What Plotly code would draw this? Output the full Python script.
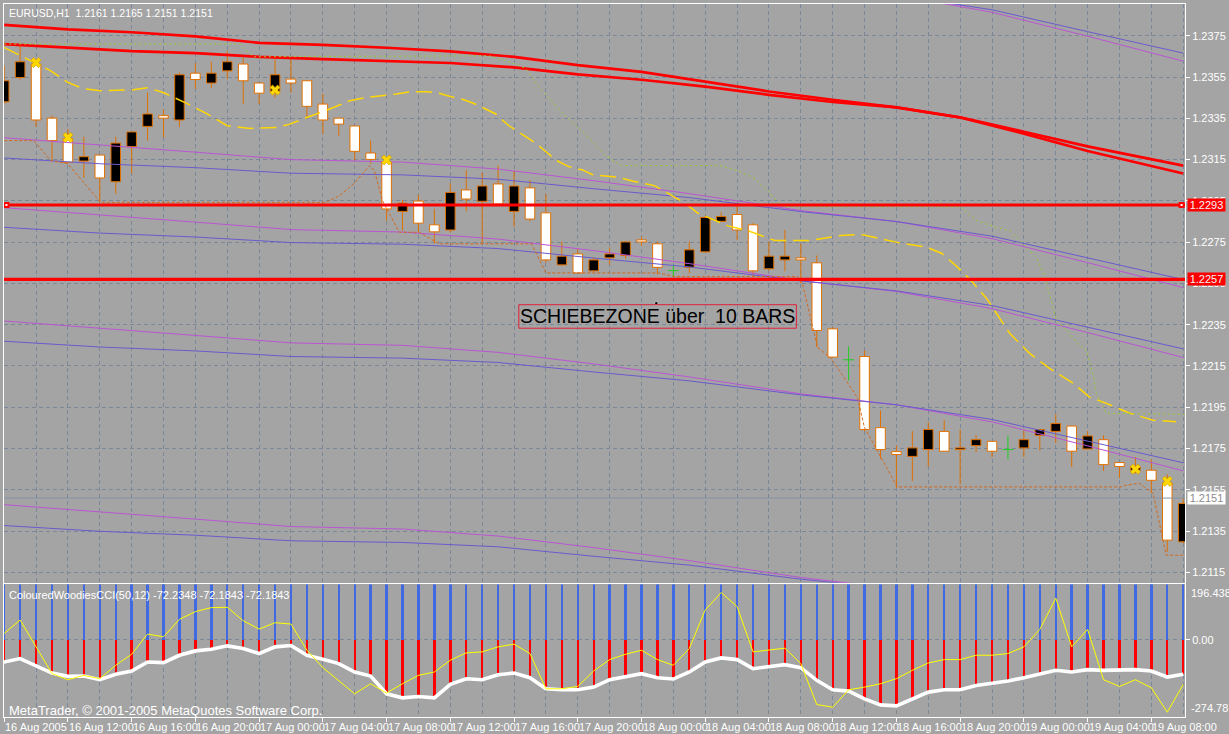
import plotly.graph_objects as go

# ---------------- DATA ----------------
time_labels = ["16 Aug 2005", "16 Aug 12:00", "16 Aug 16:00", "16 Aug 20:00", "17 Aug 00:00",
               "17 Aug 04:00", "17 Aug 08:00", "17 Aug 12:00", "17 Aug 16:00", "17 Aug 20:00",
               "18 Aug 00:00", "18 Aug 04:00", "18 Aug 08:00", "18 Aug 12:00", "18 Aug 16:00",
               "18 Aug 20:00", "19 Aug 00:00", "19 Aug 04:00", "19 Aug 08:00"]
time_label_bars = [0, 4, 8, 12, 16, 20, 24, 28, 32, 36, 40, 44, 48, 52, 56, 60, 64, 68, 72]

opens = [1.23430, 1.23548, 1.23613, 1.23351, 1.23253, 1.23143, 1.23172, 1.23043, 1.23213, 1.23311,
         1.23363, 1.23342, 1.23569, 1.23521, 1.23580, 1.23613, 1.23521, 1.23480, 1.23540, 1.23532,
         1.23419, 1.23351, 1.23313, 1.23182, 1.23140, 1.22899, 1.22949, 1.22834, 1.22809, 1.23003,
         1.22948, 1.23032, 1.22899, 1.23013, 1.22892, 1.22640, 1.22693, 1.22611, 1.22674, 1.22685,
         1.22761, 1.22742, 1.22612, 1.22628, 1.22703, 1.22851, 1.22884, 1.22834, 1.22621, 1.22664,
         1.22674, 1.22650, 1.22330, 1.22180, 1.22196, 1.21851, 1.21735, 1.21712, 1.21745, 1.21833,
         1.21745, 1.21764, 1.21785, 1.21745, 1.21753, 1.21814, 1.21833, 1.21859, 1.21748, 1.21793,
         1.21682, 1.21645, 1.21645, 1.21585, 1.21298]
highs = [1.23604, 1.23710, 1.23637, 1.23363, 1.23298, 1.23261, 1.23172, 1.23261, 1.23284, 1.23475,
         1.23392, 1.23572, 1.23618, 1.23624, 1.23677, 1.23645, 1.23521, 1.23637, 1.23637, 1.23532,
         1.23468, 1.23351, 1.23313, 1.23242, 1.23153, 1.22956, 1.22979, 1.22911, 1.23036, 1.23100,
         1.23087, 1.23121, 1.23096, 1.23051, 1.22984, 1.22753, 1.22717, 1.22677, 1.22725, 1.22753,
         1.22777, 1.22753, 1.22640, 1.22753, 1.22879, 1.22895, 1.22925, 1.22843, 1.22753, 1.22809,
         1.22742, 1.22685, 1.22338, 1.22245, 1.22225, 1.21935, 1.21764, 1.21835, 1.21877, 1.21887,
         1.21843, 1.21814, 1.21785, 1.21813, 1.21838, 1.21842, 1.21916, 1.21859, 1.21835, 1.21814,
         1.21682, 1.21709, 1.21697, 1.21625, 1.21511]
lows = [1.23421, 1.23537, 1.23309, 1.23145, 1.23134, 1.23061, 1.22943, 1.22984, 1.23083, 1.23242,
        1.23258, 1.23309, 1.23492, 1.23497, 1.23540, 1.23419, 1.23419, 1.23451, 1.23475, 1.23354,
        1.23274, 1.23266, 1.23145, 1.23130, 1.22854, 1.22806, 1.22798, 1.22745, 1.22796, 1.22899,
        1.22743, 1.22927, 1.22825, 1.22851, 1.22651, 1.22637, 1.22601, 1.22608, 1.22640, 1.22671,
        1.22733, 1.22593, 1.22580, 1.22599, 1.22700, 1.22850, 1.22761, 1.22580, 1.22612, 1.22609,
        1.22550, 1.22241, 1.22193, 1.22080, 1.21833, 1.21701, 1.21559, 1.21593, 1.21664, 1.21737,
        1.21576, 1.21733, 1.21709, 1.21698, 1.21709, 1.21741, 1.21777, 1.21661, 1.21745, 1.21641,
        1.21607, 1.21629, 1.21535, 1.21249, 1.21291]
closes = [1.23532, 1.23624, 1.23342, 1.23242, 1.23137, 1.23164, 1.23061, 1.23230, 1.23284, 1.23371,
          1.23351, 1.23561, 1.23538, 1.23569, 1.23624, 1.23532, 1.23472, 1.23561, 1.23521, 1.23408,
          1.23342, 1.23322, 1.23190, 1.23151, 1.22911, 1.22939, 1.22842, 1.22800, 1.22991, 1.22959,
          1.23022, 1.22935, 1.23022, 1.22862, 1.22664, 1.22682, 1.22601, 1.22664, 1.22693, 1.22751,
          1.22751, 1.22628, 1.22612, 1.22713, 1.22870, 1.22874, 1.22809, 1.22611, 1.22682, 1.22682,
          1.22664, 1.22322, 1.22193, 1.22180, 1.21842, 1.21745, 1.21721, 1.21753, 1.21842, 1.21737,
          1.21753, 1.21793, 1.21737, 1.21745, 1.21793, 1.21842, 1.21871, 1.21737, 1.21811, 1.21672,
          1.21663, 1.21661, 1.21596, 1.21306, 1.21484]

# two slow moving averages (thick red)
ma_bars = [0, 4, 8, 12, 16, 20, 24, 28, 32, 36, 40, 44, 48, 52, 56, 60, 64, 68, 74]
ma_red_1 = [1.23803, 1.23781, 1.23767, 1.23747, 1.23716, 1.23706, 1.23692, 1.23674, 1.23648, 1.23608,
            1.23575, 1.23527, 1.23480, 1.23440, 1.23403, 1.23354, 1.23276, 1.23192, 1.23083]
ma_red_2 = [1.23710, 1.23693, 1.23676, 1.23666, 1.23648, 1.23637, 1.23629, 1.23618, 1.23597, 1.23563,
            1.23537, 1.23504, 1.23464, 1.23429, 1.23403, 1.23355, 1.23285, 1.23214, 1.23121]

# channel lines (violet / slate blue pairs)
chan_bars = [0, 6, 12, 18, 25, 31, 37, 43, 50, 56, 62, 68, 74]
chan_top_bars = [56, 62, 68, 74]
chan_a_violet = [1.23947, 1.23864, 1.23748, 1.23627]
chan_a_blue = [1.23947, 1.23876, 1.23770, 1.23666]
chan_b_violet = [1.23256, 1.23222, 1.23186, 1.23150, 1.23138, 1.23104, 1.23048, 1.22985, 1.22903, 1.22850, 1.22767, 1.22651, 1.22530]
chan_b_blue = [1.23158, 1.23130, 1.23111, 1.23084, 1.23076, 1.23055, 1.23009, 1.22966, 1.22898, 1.22850, 1.22779, 1.22673, 1.22569]
chan_c_violet = [1.22917, 1.22883, 1.22847, 1.22811, 1.22799, 1.22765, 1.22709, 1.22646, 1.22564, 1.22511, 1.22428, 1.22312, 1.22191]
chan_c_blue = [1.22822, 1.22794, 1.22775, 1.22748, 1.22740, 1.22719, 1.22673, 1.22630, 1.22562, 1.22514, 1.22443, 1.22337, 1.22233]
chan_d_violet = [1.22368, 1.22334, 1.22298, 1.22262, 1.22250, 1.22216, 1.22160, 1.22097, 1.22015, 1.21962, 1.21879, 1.21763, 1.21642]
chan_d_blue = [1.22270, 1.22242, 1.22223, 1.22196, 1.22188, 1.22167, 1.22121, 1.22078, 1.22010, 1.21962, 1.21891, 1.21785, 1.21681]
chan_e_violet = [1.21478, 1.21444, 1.21408, 1.21372, 1.21360, 1.21326, 1.21270, 1.21207, 1.21125, 1.21072, 1.20989, 1.20873, 1.20752]
chan_e_blue = [1.21377, 1.21349, 1.21330, 1.21303, 1.21295, 1.21274, 1.21228, 1.21185, 1.21117, 1.21069, 1.20998, 1.20892, 1.20788]

# dashed gold moving average
gold_bars = [0, 1.86, 2.93, 3.99, 4.99, 6.05, 8.11, 8.99, 9.99, 11.49, 12.74, 13.99, 15.43, 17.11, 17.93,
             18.99, 20.43, 21.68, 22.74, 24.61, 25.55, 26.55, 27.3, 28.05, 28.86, 29.49, 30.24, 30.86,
             31.68, 32.3, 33.3, 33.93, 34.68, 35.43, 36.3, 36.93, 37.8, 38.55, 39.49, 40.8, 41.3, 42.24,
             42.8, 43.55, 44.36, 45.43, 46.68, 48.36, 50.61, 52.49, 53.8, 56.05, 57.93, 58.86, 59.6, 60.6,
             61.67, 63.11, 64.36, 65.61, 67.11, 68.11, 69.18, 70.61, 72.11, 73.55]
gold_ma = [1.23693, 1.23620, 1.23580, 1.23524, 1.23493, 1.23484, 1.23488, 1.23498, 1.23475, 1.23421,
           1.23372, 1.23314, 1.23301, 1.23306, 1.23322, 1.23354, 1.23395, 1.23435, 1.23451, 1.23468,
           1.23479, 1.23479, 1.23472, 1.23455, 1.23440, 1.23422, 1.23395, 1.23371, 1.23314, 1.23282,
           1.23233, 1.23193, 1.23145, 1.23116, 1.23100, 1.23077, 1.23071, 1.23064, 1.23045, 1.23024,
           1.23003, 1.22959, 1.22935, 1.22890, 1.22863, 1.22829, 1.22806, 1.22758, 1.22758, 1.22782,
           1.22787, 1.22749, 1.22725, 1.22695, 1.22645, 1.22572, 1.22476, 1.22308, 1.22211, 1.22138,
           1.22066, 1.21999, 1.21969, 1.21922, 1.21887, 1.21880]

# dotted yellow-green line
olive_bars = [0, 14.8, 15.61, 30.43, 32.11, 32.74, 33.55, 34.36, 35.24, 36.05, 36.86, 37.74, 38.55, 38.74,
              44.99, 46.05, 47.11, 48.11, 48.74, 48.99, 59.99, 61.05, 62.3, 63.11, 64.36, 64.8, 65.3,
              66.05, 66.68, 67.49, 67.93, 68.36, 68.55, 69.18, 74.1]
olive_line = [1.23710, 1.23710, 1.23648, 1.23653, 1.23614, 1.23590, 1.23503, 1.23435, 1.23358, 1.23304,
              1.23242, 1.23169, 1.23130, 1.23121, 1.23121, 1.23096, 1.23058, 1.22985, 1.22927, 1.22922,
              1.22922, 1.22854, 1.22821, 1.22806, 1.22709, 1.22675, 1.22588, 1.22371, 1.22322, 1.22250,
              1.22225, 1.22104, 1.22017, 1.21921, 1.21916]

# dashed orange stop line
stop_bars = [0, 1.86, 2.93, 3.99, 6.05, 20.2, 21.05, 22.0, 22.93, 23.24, 23.74, 24.18, 24.8, 26.05, 27.3,
             33.1, 34.0, 41.05, 42.1, 49.8, 50.1, 51.05, 51.86, 53.55, 53.99, 56.05, 70.1, 70.4, 71.24,
             72.11, 72.93, 74.1]
stop_line = [1.23242, 1.23242, 1.23145, 1.23130, 1.22943, 1.22943, 1.22975, 1.23038, 1.23121, 1.23096,
             1.22951, 1.22888, 1.22798, 1.22798, 1.22742, 1.22742, 1.22601, 1.22601, 1.22583, 1.22583,
             1.22550, 1.22240, 1.22191, 1.21998, 1.21853, 1.21564, 1.21564, 1.21572, 1.21582, 1.21533,
             1.21233, 1.21233]

star_bars = [2, 4, 17, 24, 71, 73]
star_prices = [1.23620, 1.23257, 1.23487, 1.23148, 1.21650, 1.21591]

zone_levels = [1.2293, 1.2257]
zone_labels = ["1.2293", "1.2257"]
bid_price = 1.2151
bid_label = "1.2151"
anchor_bar, anchor_price = 40.93, 1.22454

zone_text = "SCHIEBEZONE über\u00a0\u00a010 BARS"
zone_box_bars = [32.3, 49.72]
zone_box_prices = [1.22333, 1.22447]
zone_text_bar, zone_text_price = 41.01, 1.22394

title_text = "EURUSD,H1\u00a0\u00a01.2161 1.2165 1.2151 1.2151"
cci_title = "ColouredWoodiesCCI(50,12) -72.2348 -72.1843 -72.1843"
copyright_text = "MetaTrader, © 2001-2005 MetaQuotes Software Corp."

cci_max, cci_min = 196.438, -274.78
cci_max_label, cci_min_label = "196.438", "-274.78"
cci_trend = [-79.0, -67.1, -94.5, -118.4, -130.3, -129.1, -142.2, -123.1, -111.2, -79.0,
             -81.4, -55.2, -39.7, -33.7, -21.8, -31.3, -49.2, -25.3, -20.6, -55.2,
             -69.5, -85.0, -114.8, -129.1, -192.3, -206.6, -201.9, -206.6, -158.9, -138.6,
             -142.2, -124.3, -118.4, -135.1, -174.4, -178.0, -178.0, -168.5, -142.2, -132.7,
             -120.8, -135.1, -139.8, -114.8, -79.0, -64.7, -70.7, -102.9, -96.9, -88.6,
             -99.3, -144.6, -178.0, -182.8, -210.2, -231.7, -235.3, -210.2, -186.3, -178.0,
             -178.0, -162.5, -154.2, -147.0, -135.1, -123.1, -108.8, -114.8, -106.4, -108.8,
             -108.8, -106.4, -111.2, -132.7, -123.1]
cci_turbo = [22.4, 70.1, -25.3, -120.8, -142.2, -126.7, -138.6, -90.9, -51.6, 20.0,
             10.4, 72.5, 99.9, 114.2, 115.4, 67.7, 37.9, 60.5, 55.8, -37.3,
             -99.3, -144.6, -192.3, -156.5, -189.9, -156.5, -126.7, -114.8, -73.0, -46.8,
             -43.2, -25.3, -15.8, -49.2, -174.4, -174.4, -166.1, -111.2, -70.7, -51.6,
             -37.3, -70.7, -90.9, -31.3, 105.9, 167.9, 117.8, -43.2, -37.3, -30.1,
             -85.0, -230.5, -240.0, -178.0, -168.5, -156.5, -138.6, -108.8, -82.6, -70.7,
             -70.7, -55.2, -55.2, -49.2, -25.3, 36.7, 147.6, -25.3, 36.7, -142.2,
             -166.1, -142.2, -170.8, -257.9, -158.9]
# upper histogram runs off the top of the window on every bar
cci_hist_up = [300, 300, 300, 300, 300, 300, 300, 300, 300, 300, 300, 300, 300, 300, 300,
               300, 300, 300, 300, 300, 300, 300, 300, 300, 300, 300, 300, 300, 300, 300,
               300, 300, 300, 300, 300, 300, 300, 300, 300, 300, 300, 300, 300, 300, 300,
               300, 300, 300, 300, 300, 300, 300, 300, 300, 300, 300, 300, 300, 300, 300,
               300, 300, 300, 300, 300, 300, 300, 300, 300, 300, 300, 300, 300, 300, 300]

# ---------------- STYLE ----------------
BG = "#A4A4A4"
GRID = "#7B8898"
GDASH = "4px,3px"
CANDLE = "#E07000"
VIOLET = "#BA55D3"
SLATE = "#6A5ACD"
FONT = "Liberation Sans, Arial, sans-serif"
XR = [-0.0125, 74.1125]

fig = go.Figure()

# ---- candles ----
bars = list(range(len(opens)))
wick_x, wick_y = [], []
doji_x, doji_y = [], []
body_x, body_base, body_len, body_col = [], [], [], []
for i, o, h, l, c in zip(bars, opens, highs, lows, closes):
    if o == c:
        doji_x += [i, i, None, i - 0.34, i + 0.34, None]
        doji_y += [h, l, None, o, o, None]
        continue
    top, bot = max(o, c), min(o, c)
    if h > top:
        wick_x += [i, i, None]
        wick_y += [h, top, None]
    if l < bot:
        wick_x += [i, i, None]
        wick_y += [bot, l, None]
    body_x.append(i)
    body_base.append(bot)
    body_len.append(top - bot)
    body_col.append("#000000" if c > o else "#FFFFFF")

fig.add_trace(go.Bar(x=body_x, y=body_len, base=body_base, width=0.6,
                     marker=dict(color=body_col, line=dict(color=CANDLE, width=1)),
                     xaxis="x", yaxis="y", hoverinfo="skip"))
fig.add_trace(go.Scatter(x=wick_x, y=wick_y, mode="lines", line=dict(color=CANDLE, width=1),
                         xaxis="x", yaxis="y", hoverinfo="skip"))
fig.add_trace(go.Scatter(x=doji_x, y=doji_y, mode="lines", line=dict(color="#22CC22", width=1),
                         xaxis="x", yaxis="y", hoverinfo="skip"))


def line(x, y, color, width=1, dash="solid", xa="x", ya="y"):
    fig.add_trace(go.Scatter(x=x, y=y, mode="lines", line=dict(color=color, width=width, dash=dash),
                             xaxis=xa, yaxis=ya, hoverinfo="skip"))


# channels
line(chan_top_bars, chan_a_violet, VIOLET)
line(chan_top_bars, chan_a_blue, SLATE)
for v, b in [(chan_b_violet, chan_b_blue), (chan_c_violet, chan_c_blue),
             (chan_d_violet, chan_d_blue), (chan_e_violet, chan_e_blue)]:
    line(chan_bars, v, VIOLET)
    line(chan_bars, b, SLATE)

# red MAs
line(ma_bars, ma_red_1, "#FF0000", 2.7)
line(ma_bars, ma_red_2, "#FF0000", 2.7)

# other indicator lines
line(stop_bars, stop_line, "#D2691E", 1, "3px,2px")
line(gold_bars, gold_ma, "#FFD700", 1.5, "16px,7px")
line(olive_bars, olive_line, "#9ACD32", 1, "2px,3px")

# horizontal zone lines and bid line
for lv in zone_levels:
    line([XR[0] - 1, XR[1] + 1], [lv, lv], "#FF0000", 3.2)
line([XR[0] - 1, XR[1] + 1], [bid_price, bid_price], "#8494A6", 1)

# end squares of the upper zone line
fig.add_trace(go.Scatter(x=[0.14, 73.9], y=[zone_levels[0]] * 2, mode="markers",
                         marker=dict(symbol="square", size=6, color="#FF0000"),
                         xaxis="x", yaxis="y", hoverinfo="skip"))
fig.add_trace(go.Scatter(x=[0.14, 73.9], y=[zone_levels[0]] * 2, mode="markers",
                         marker=dict(symbol="square", size=2, color="#FFFFFF"),
                         xaxis="x", yaxis="y", hoverinfo="skip"))
fig.add_trace(go.Scatter(x=[anchor_bar], y=[anchor_price], mode="markers",
                         marker=dict(symbol="square", size=3, color="#000000",
                                     line=dict(color="#FFFFFF", width=0.5)),
                         xaxis="x", yaxis="y", hoverinfo="skip"))

# signal stars
fig.add_trace(go.Scatter(x=star_bars, y=star_prices, mode="markers",
                         marker=dict(symbol="x", size=9, color="#FFD700",
                                     line=dict(color="#C89600", width=0.6)),
                         xaxis="x", yaxis="y", hoverinfo="skip"))

# ---- CCI window ----
fig.add_trace(go.Bar(x=bars, y=cci_hist_up, base=0, width=0.15, marker=dict(color="#4169E1", line=dict(width=0)),
                     xaxis="x2", yaxis="y2", hoverinfo="skip"))
fig.add_trace(go.Bar(x=bars, y=cci_trend, base=0, width=0.15, marker=dict(color="#FF0000", line=dict(width=0)),
                     xaxis="x2", yaxis="y2", hoverinfo="skip"))
line([-0.4] + bars, [cci_trend[0]] + cci_trend, "#FFFFFF", 3.6, xa="x2", ya="y2")
line(bars, cci_turbo, "#FFFF00", 1, xa="x2", ya="y2")

# ---- layout ----
axis_common = dict(showline=True, mirror=True, linecolor="#FFFFFF", linewidth=1, zeroline=False,
                   fixedrange=True)
fig.update_layout(
    width=1229, height=734,
    margin=dict(l=3, r=40, t=3, b=17, pad=0),
    paper_bgcolor=BG, plot_bgcolor=BG,
    showlegend=False, barmode="overlay", bargap=0,
    font=dict(family=FONT, size=11, color="#FFFFFF"),
    xaxis=dict(domain=[0, 1], range=XR, anchor="y", tickmode="linear", tick0=0, dtick=2,
               showgrid=True, gridcolor=GRID, griddash=GDASH, gridwidth=1,
               showticklabels=False, ticks="", **axis_common),
    yaxis=dict(domain=[0.18838, 1], range=[1.21100, 1.23904], anchor="x", side="right",
               tickmode="linear", tick0=1.2115, dtick=0.002, tickformat=".4f",
               showgrid=True, gridcolor=GRID, griddash=GDASH, gridwidth=1,
               ticks="outside", ticklen=4, tickcolor="#FFFFFF",
               tickfont=dict(family=FONT, size=11, color="#FFFFFF"), **axis_common),
    xaxis2=dict(domain=[0, 1], range=XR, anchor="y2", tickmode="linear", tick0=0, dtick=4,
                showgrid=True, gridcolor=GRID, griddash=GDASH, gridwidth=1,
                minor=dict(tick0=0, dtick=2, showgrid=True, gridcolor=GRID, griddash=GDASH, ticks=""),
                ticks="outside", ticklen=4, tickcolor="#FFFFFF", showticklabels=False, **axis_common),
    yaxis2=dict(domain=[0, 0.18585], range=[cci_min, cci_max], anchor="x2", side="right",
                tickmode="array", tickvals=[0], ticktext=["0.00"],
                showgrid=True, gridcolor=GRID, griddash=GDASH, gridwidth=1,
                ticks="outside", ticklen=4, tickcolor="#FFFFFF",
                tickfont=dict(family=FONT, size=11, color="#FFFFFF"), **axis_common),
)

ann = []
ann.append(dict(text=title_text, xref="paper", yref="paper", x=0, y=1, xanchor="left", yanchor="middle",
                xshift=3, yshift=-9, showarrow=False, font=dict(family=FONT, size=10.5, color="#FFFFFF")))
ann.append(dict(text=cci_title, xref="paper", yref="y2 domain", x=0, y=1, xanchor="left", yanchor="middle",
                xshift=3, yshift=-11, showarrow=False, font=dict(family=FONT, size=11, color="#FFFFFF")))
ann.append(dict(text=copyright_text, xref="paper", yref="y2 domain", x=0, y=0, xanchor="left",
                yanchor="middle", xshift=3, yshift=6.5, showarrow=False,
                font=dict(family=FONT, size=13, color="#FFFFFF")))
for b, t in zip(time_label_bars, time_labels):
    ann.append(dict(text=t, xref="x2", yref="paper", x=b, y=0, xanchor="left", yanchor="middle",
                    xshift=-1, yshift=-9.5, showarrow=False, font=dict(family=FONT, size=11, color="#FFFFFF")))
for lv, lab in zip(zone_levels, zone_labels):
    ann.append(dict(text=lab, xref="paper", yref="y", x=1, y=lv, xanchor="left", yanchor="middle",
                    xshift=2, showarrow=False, bgcolor="#FF0000", width=37, height=12, borderpad=0,
                    font=dict(family=FONT, size=11, color="#F4F4F4")))
ann.append(dict(text=bid_label, xref="paper", yref="y", x=1, y=bid_price, xanchor="left", yanchor="middle",
                xshift=2, showarrow=False, bgcolor="#FFFFFF", width=37, height=12, borderpad=0,
                font=dict(family=FONT, size=11, color="#8C8C8C")))
ann.append(dict(text=cci_max_label, xref="paper", yref="y2", x=1, y=cci_max, xanchor="left", yanchor="top",
                xshift=4, yshift=-1, showarrow=False, font=dict(family=FONT, size=11, color="#FFFFFF")))
ann.append(dict(text=cci_min_label, xref="paper", yref="y2", x=1, y=cci_min, xanchor="left", yanchor="bottom",
                xshift=4, yshift=1, showarrow=False, font=dict(family=FONT, size=11, color="#FFFFFF")))
ann.append(dict(text=zone_text, xref="x", yref="y", x=zone_text_bar, y=zone_text_price, xanchor="center",
                yanchor="middle", showarrow=False, font=dict(family=FONT, size=19.5, color="#000000")))
fig.update_layout(annotations=ann)

fig.add_shape(type="rect", xref="x", yref="y", x0=zone_box_bars[0], x1=zone_box_bars[1],
              y0=zone_box_prices[0], y1=zone_box_prices[1], line=dict(color="#E0203A", width=1),
              fillcolor="rgba(0,0,0,0)", layer="above")

fig.write_html("out.html", config={"displayModeBar": False, "staticPlot": True},
               post_script="document.body.style.margin='0';document.body.style.overflow='hidden';")
